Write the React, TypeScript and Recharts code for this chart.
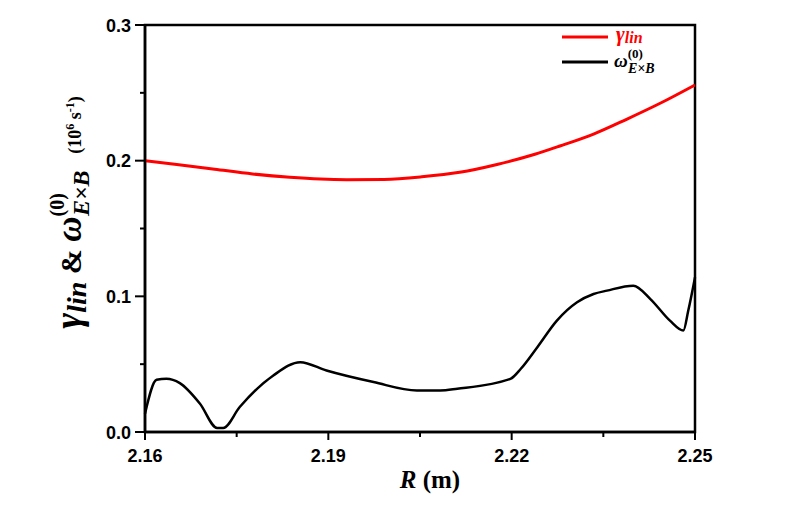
import React from "react";
import {
  LineChart,
  Line,
  XAxis,
  YAxis,
  Legend,
  ReferenceArea,
} from "recharts";

// red curve: linear growth rate
const R_LIN = [
  2.16, 2.1652, 2.1714, 2.1776, 2.1837, 2.1887, 2.193, 2.1991, 2.2053, 2.2115,
  2.2176, 2.2238, 2.2279, 2.2334, 2.2388, 2.2443, 2.25,
];
const GAMMA_LIN = [
  0.2, 0.1972, 0.1937, 0.1902, 0.1877, 0.1864, 0.186, 0.1862, 0.1881, 0.1914,
  0.1972, 0.2047, 0.2108, 0.2196, 0.2305, 0.2423, 0.2558,
];

// black curve: E x B shearing rate
const R_EXB = [
  2.16, 2.1619, 2.1635, 2.1657, 2.169, 2.1718, 2.1728, 2.1755, 2.181, 2.1854,
  2.1897, 2.1974, 2.2045, 2.2083, 2.2111, 2.2198, 2.2215, 2.2242, 2.2274,
  2.2307, 2.2334, 2.2356, 2.2399, 2.2427, 2.2459, 2.2481, 2.2489, 2.25,
];
const OMEGA_EXB = [
  0.0135, 0.0385, 0.0392, 0.036, 0.0208, 0.003, 0.003, 0.0184, 0.0417, 0.0515,
  0.0453, 0.0368, 0.0306, 0.0306, 0.0319, 0.0392, 0.0466, 0.0625, 0.0821,
  0.0956, 0.1017, 0.1042, 0.1078, 0.098, 0.0821, 0.0748, 0.0895, 0.114,
];

const X_TICKS = [2.16, 2.175, 2.19, 2.205, 2.22, 2.235, 2.25];
const X_LABELED = [2.16, 2.19, 2.22, 2.25];
const Y_TICKS = [0, 0.05, 0.1, 0.15, 0.2, 0.25, 0.3];
const Y_LABELED = [0, 0.1, 0.2, 0.3];

const linData = R_LIN.map((r, i) => ({ r, v: GAMMA_LIN[i] }));
const exbData = R_EXB.map((r, i) => ({ r, v: OMEGA_EXB[i] }));

const SERIF = "'Liberation Serif', 'Times New Roman', serif";
const SANS = "'Liberation Sans', Arial, sans-serif";

function XTick(props: any) {
  const { x, y, payload } = props;
  const major = X_LABELED.includes(payload.value);
  return (
    <g>
      <line x1={x} y1={y} x2={x} y2={y + (major ? 8 : 5)} stroke="#000" strokeWidth={2} />
      {major && (
        <text x={x} y={y + 30} textAnchor="middle" fontFamily={SANS} fontWeight="bold" fontSize={18} fill="#000">
          {payload.value.toFixed(2)}
        </text>
      )}
    </g>
  );
}

function YTick(props: any) {
  const { x, y, payload } = props;
  const major = Y_LABELED.includes(payload.value);
  return (
    <g>
      <line x1={x} y1={y} x2={x - (major ? 10 : 5)} y2={y} stroke="#000" strokeWidth={2} />
      {major && (
        <text x={x - 14} y={y + 6.5} textAnchor="end" fontFamily={SANS} fontWeight="bold" fontSize={18} fill="#000">
          {payload.value.toFixed(1)}
        </text>
      )}
    </g>
  );
}

function YLabel(props: any) {
  const vb = props.viewBox;
  const cx = 81;
  const cy = vb.y + vb.height / 2 - 16;
  return (
    <text
      transform={`translate(${cx},${cy}) rotate(-90)`}
      textAnchor="middle"
      fontFamily={SERIF}
      fontWeight="bold"
      fill="#000"
    >
      <tspan fontSize={38} fontStyle="italic">γ</tspan>
      <tspan fontSize={28} fontStyle="italic" dy={5}>lin</tspan>
      <tspan fontSize={30} dy={-5}> &amp; </tspan>
      <tspan fontSize={35} fontStyle="italic">ω</tspan>
      <tspan fontSize={20} dy={-17}>(0)</tspan>
      <tspan fontSize={24} fontStyle="italic" dx={-23} dy={25}>E×B</tspan>
      <tspan fontSize={18} dx={12} dy={-8}> (10</tspan>
      <tspan fontSize={12} dy={-7}>6</tspan>
      <tspan fontSize={18} dy={7}> s</tspan>
      <tspan fontSize={12} dy={-7}>-1</tspan>
      <tspan fontSize={18} dy={7}>)</tspan>
    </text>
  );
}

function XLabel(props: any) {
  const vb = props.viewBox;
  return (
    <text
      x={vb.x + vb.width / 2 + 10}
      y={vb.y + 56}
      textAnchor="middle"
      fontFamily={SERIF}
      fontWeight="bold"
      fontSize={25}
      fill="#000"
    >
      <tspan fontStyle="italic">R</tspan>
      <tspan> (m)</tspan>
    </text>
  );
}

function LegendBox() {
  return (
    <svg width={140} height={68} style={{ display: "block", overflow: "visible" }}>
      <line x1={7} y1={16} x2={53} y2={16} stroke="#ff0000" strokeWidth={3} />
      <text x={61} y={20} fontFamily={SERIF} fontWeight="bold" fontStyle="italic" fill="#ff0000">
        <tspan fontSize={21}>γ</tspan>
        <tspan fontSize={16} dy={2}>lin</tspan>
      </text>
      <line x1={7} y1={41} x2={53} y2={41} stroke="#000" strokeWidth={3} />
      <text x={59} y={46} fontFamily={SERIF} fontWeight="bold" fill="#000">
        <tspan fontSize={19} fontStyle="italic">ω</tspan>
        <tspan fontSize={13} dy={-9}>(0)</tspan>
        <tspan fontSize={14} fontStyle="italic" dx={-15} dy={15}>E×B</tspan>
      </text>
    </svg>
  );
}

export default function App() {
  return (
    <div style={{ position: "absolute", left: 0, top: 0, background: "#fff" }}>
      <LineChart width={807} height={505} margin={{ top: 25, right: 112, bottom: 0, left: 0 }}>
        <XAxis
          type="number"
          dataKey="r"
          domain={[2.16, 2.25]}
          ticks={X_TICKS}
          tick={<XTick />}
          tickLine={false}
          tickSize={0}
          tickMargin={0}
          height={73}
          axisLine={{ stroke: "#000", strokeWidth: 2.5 }}
          interval={0}
          label={<XLabel />}
        />
        <YAxis
          type="number"
          domain={[0, 0.3]}
          ticks={Y_TICKS}
          tick={<YTick />}
          tickLine={false}
          tickSize={0}
          tickMargin={0}
          width={145}
          axisLine={{ stroke: "#000", strokeWidth: 2.5 }}
          interval={0}
          label={<YLabel />}
        />
        <ReferenceArea x1={2.16} x2={2.25} y1={0} y2={0.3} fill="none" stroke="#000" strokeWidth={2.5} />
        <Legend
          layout="horizontal"
          verticalAlign="middle"
          align="center"
          content={() => <LegendBox />}
          wrapperStyle={{ left: 555, top: 21, width: 140, height: 68 }}
        />
        <Line
          data={linData}
          dataKey="v"
          type="monotone"
          stroke="#ff0000"
          strokeWidth={3}
          dot={false}
          isAnimationActive={false}
        />
        <Line
          data={exbData}
          dataKey="v"
          type="monotone"
          stroke="#000"
          strokeWidth={2.5}
          dot={false}
          isAnimationActive={false}
        />
      </LineChart>
    </div>
  );
}
